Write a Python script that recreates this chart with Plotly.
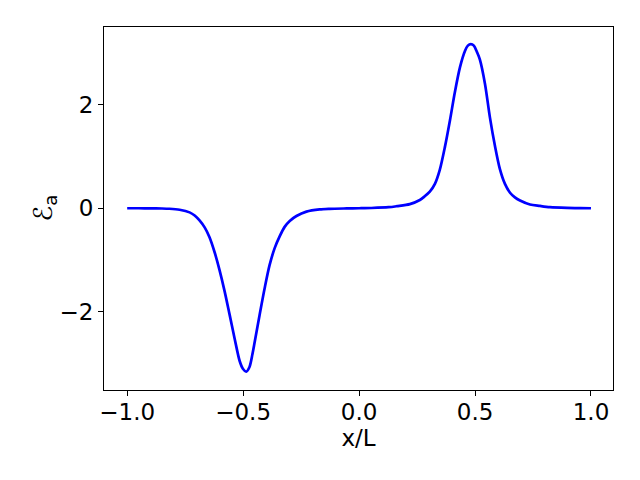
import plotly.graph_objects as go

x_vals = [-1.0, -0.95, -0.90, -0.85, -0.818, -0.774, -0.731, -0.709, -0.688, -0.666,
          -0.645, -0.623, -0.602, -0.580, -0.559, -0.537, -0.515, -0.501, -0.487, -0.473,
          -0.460, -0.450, -0.429, -0.407, -0.386, -0.364, -0.342, -0.321, -0.299, -0.270,
          -0.227, -0.170, -0.127, -0.053, 0.0,
          0.053, 0.127, 0.163, 0.219, 0.262, 0.283, 0.305, 0.327, 0.348, 0.370,
          0.392, 0.413, 0.435, 0.457, 0.469, 0.482, 0.495, 0.508, 0.521, 0.543,
          0.564, 0.586, 0.607, 0.629, 0.651, 0.672, 0.694, 0.737, 0.780, 0.823,
          0.897, 0.953, 1.0]
y_vals = [0.0, 0.0, -0.002, -0.005, -0.01, -0.03, -0.08, -0.14, -0.235, -0.37,
          -0.56, -0.85, -1.19, -1.60, -2.04, -2.51, -2.95, -3.10, -3.155, -3.07,
          -2.82, -2.58, -2.06, -1.54, -1.10, -0.77, -0.54, -0.36, -0.245, -0.15,
          -0.066, -0.023, -0.012, -0.004, 0.0,
          0.005, 0.02, 0.04, 0.08, 0.16, 0.23, 0.32, 0.47, 0.74, 1.18,
          1.70, 2.24, 2.72, 3.04, 3.14, 3.17, 3.14, 3.02, 2.87, 2.40,
          1.76, 1.20, 0.76, 0.47, 0.30, 0.21, 0.15, 0.073, 0.044, 0.02,
          0.006, 0.002, 0.0]

x_ticks = [-1.0, -0.5, 0.0, 0.5, 1.0]
x_tick_text = ["−1.0", "−0.5", "0.0", "0.5", "1.0"]
y_ticks = [-2, 0, 2]
y_tick_text = ["−2", "0", "2"]
y_label = "ℰ<sub>a</sub>"

fig = go.Figure()
fig.add_trace(go.Scatter(x=x_vals, y=y_vals, mode="lines",
                         line=dict(color="#0000ff", width=2.7, shape="spline", smoothing=0.8)))

font = dict(family="DejaVu Sans", size=23, color="black")
fig.update_layout(
    width=640, height=480,
    margin=dict(l=96, r=35, t=19, b=98),
    paper_bgcolor="white", plot_bgcolor="white",
    showlegend=False,
    font=font,
)
fig.update_xaxes(range=[-1.1, 1.095], tickvals=x_ticks, ticktext=x_tick_text,
                 ticks="outside", ticklen=5, tickwidth=1, tickcolor="black",
                 showline=True, linecolor="black", linewidth=1, mirror=True,
                 showgrid=False, zeroline=False, automargin=False,
                 ticklabelstandoff=-4,
                 title=dict(text="x/L", font=font, standoff=4), tickfont=font)
fig.update_yaxes(range=[-3.51, 3.50], tickvals=y_ticks, ticktext=y_tick_text,
                 ticks="outside", ticklen=5, tickwidth=1, tickcolor="black",
                 showline=True, linecolor="black", linewidth=1, mirror=True,
                 showgrid=False, zeroline=False, automargin=False,
                 tickfont=font)
fig.add_annotation(text=y_label, xref="paper", yref="paper", x=0, y=0.5,
                   xanchor="center", yanchor="middle", xshift=-60, textangle=-90,
                   showarrow=False, font=dict(family="DejaVu Sans", size=26, color="black"))

fig.write_html("out.html")
